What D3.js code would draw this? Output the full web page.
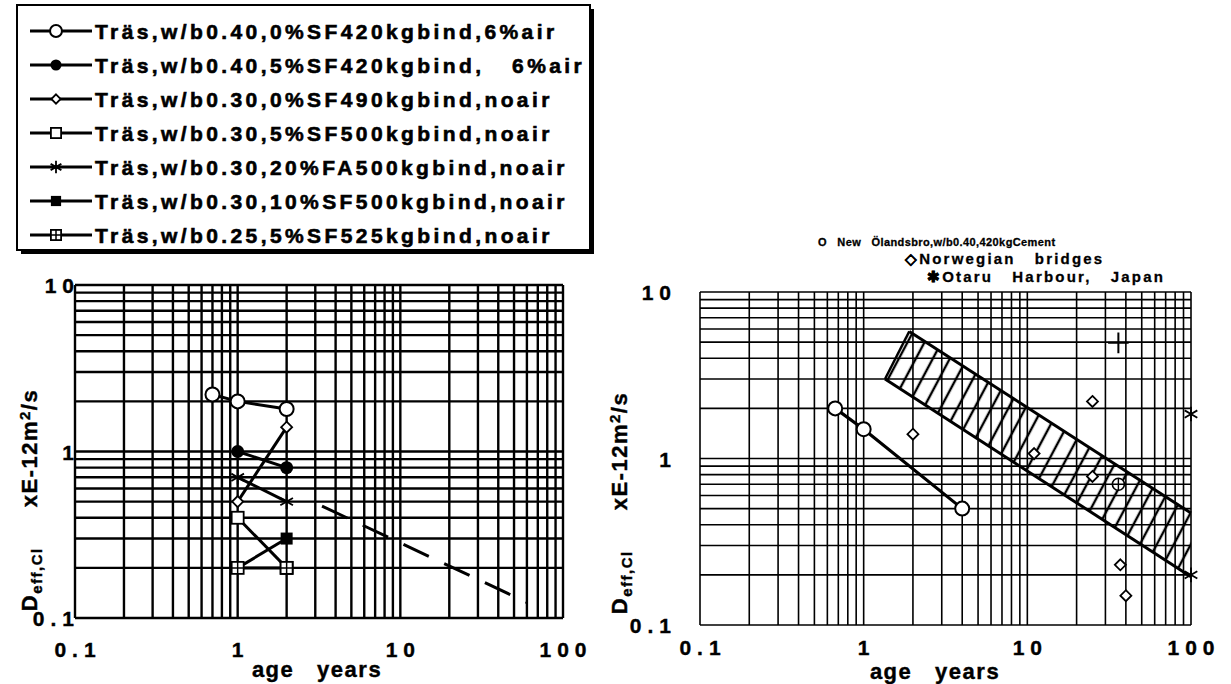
<!DOCTYPE html>
<html>
<head>
<meta charset="utf-8">
<script src="https://cdn.jsdelivr.net/npm/d3@7"></script>
<style>
  body { margin: 0; background: #fff; }
  svg text { font-family: "Liberation Sans", Arial, Helvetica, sans-serif; font-weight: bold; fill: #000; }
</style>
</head>
<body>
<svg id="fig" width="1231" height="684"></svg>
<script>
// ---------- data: Träs laboratory series (age in years, Deff,Cl in 1E-12 m2/s) ----------
const trasNames = [
  "Träs,w/b0.40,0%SF420kgbind,6%air",
  "Träs,w/b0.40,5%SF420kgbind,   6%air",
  "Träs,w/b0.30,0%SF490kgbind,noair",
  "Träs,w/b0.30,5%SF500kgbind,noair",
  "Träs,w/b0.30,20%FA500kgbind,noair",
  "Träs,w/b0.30,10%SF500kgbind,noair",
  "Träs,w/b0.25,5%SF525kgbind,noair"
];
const trasMarkers = ["circleOpen", "circleFilled", "diamondOpen", "squareOpen", "asterisk", "squareFilled", "squareQuartered"];

const tras040_0SF   = [[0.7, 2.2], [1, 2.0], [2, 1.8]];
const tras040_5SF   = [[1, 1.0], [2, 0.8]];
const tras030_0SF   = [[1, 0.5], [2, 1.4]];
const tras030_5SF   = [[1, 0.4], [2, 0.2]];
const tras030_20FA  = [[1, 0.7], [2, 0.5]];
const tras030_10SF  = [[1, 0.2], [2, 0.3]];
const tras025_5SF   = [[1, 0.2], [2, 0.2]];
const trasSeries = [tras040_0SF, tras040_5SF, tras030_0SF, tras030_5SF, tras030_20FA, tras030_10SF, tras025_5SF];

// dashed trend line in the laboratory panel
const trendDashed = [[3.3, 0.47], [60, 0.124]];

// ---------- data: field structures ----------
const olandsbro = [[0.67, 2.0], [1, 1.5], [4, 0.5]];
const norwegianBridges = [[2, 1.4], [25, 2.2], [11, 1.07], [25, 0.78], [37, 0.23], [40, 0.15]];
const otaruHarbour = [[100, 1.85], [100, 0.2]];
const crossedCircle = [[36, 0.70]];
const plusMark = [[36, 4.95]];

// hatched band of field data (upper and lower edge)
const bandUpper = [[1.9, 5.8], [100, 0.47]];
const bandLower = [[1.35, 3.0], [100, 0.195]];

// ---------- axes ----------
const xTicks = [0.1, 1, 10, 100];
const xTickLabels = ["0.1", "1", "10", "100"];
const yTicks = [0.1, 1, 10];
const yTickLabels = ["0.1", "1", "10"];

const svg = d3.select("#fig");

function marker(g, type, x, y, s) {
  const k = s || 1;
  if (type === "circleOpen") {
    g.append("circle").attr("cx", x).attr("cy", y).attr("r", 7 * k)
      .attr("fill", "#fff").attr("stroke", "#000").attr("stroke-width", 2);
  } else if (type === "circleFilled") {
    g.append("circle").attr("cx", x).attr("cy", y).attr("r", 6.5 * k).attr("fill", "#000");
  } else if (type === "diamondOpen") {
    const r = 5.5 * k;
    g.append("path").attr("d", `M${x},${y - r}L${x + r},${y}L${x},${y + r}L${x - r},${y}Z`)
      .attr("fill", "#fff").attr("stroke", "#000").attr("stroke-width", 1.8);
  } else if (type === "squareOpen") {
    const r = 6 * k;
    g.append("rect").attr("x", x - r).attr("y", y - r).attr("width", 2 * r).attr("height", 2 * r)
      .attr("fill", "#fff").attr("stroke", "#000").attr("stroke-width", 1.8);
  } else if (type === "squareFilled") {
    const r = 6 * k;
    g.append("rect").attr("x", x - r).attr("y", y - r).attr("width", 2 * r).attr("height", 2 * r).attr("fill", "#000");
  } else if (type === "squareQuartered") {
    const r = 6 * k;
    g.append("rect").attr("x", x - r).attr("y", y - r).attr("width", 2 * r).attr("height", 2 * r)
      .attr("fill", "#fff").attr("stroke", "#000").attr("stroke-width", 1.8);
    g.append("path").attr("d", `M${x - r},${y}H${x + r}M${x},${y - r}V${y + r}`)
      .attr("stroke", "#000").attr("stroke-width", 1.5);
  } else if (type === "asterisk") {
    g.append("path").attr("transform", `translate(${x},${y})`)
      .attr("d", d3.symbol(d3.symbolAsterisk, 150 * k * k)())
      .attr("fill", "none").attr("stroke", "#000").attr("stroke-width", 1.8);
  } else if (type === "plus") {
    g.append("path").attr("transform", `translate(${x},${y})`)
      .attr("d", d3.symbol(d3.symbolPlus, 140 * k * k)())
      .attr("fill", "none").attr("stroke", "#000").attr("stroke-width", 2);
  } else if (type === "crossedCircle") {
    const r = 6 * k;
    g.append("circle").attr("cx", x).attr("cy", y).attr("r", r)
      .attr("fill", "#fff").attr("stroke", "#000").attr("stroke-width", 1.6);
    g.append("path").attr("d", `M${x - r},${y}H${x + r}M${x},${y - r}V${y + r}`)
      .attr("stroke", "#000").attr("stroke-width", 1.4);
  }
}

function yTitle(g, cx, cy) {
  const t = g.append("text")
    .attr("transform", `translate(${cx},${cy}) rotate(-90)`)
    .attr("text-anchor", "middle")
    .style("font-size", "22px").style("letter-spacing", "1.5px")
    .attr("stroke", "#000").attr("stroke-width", 0.4);
  t.append("tspan").text("D");
  t.append("tspan").attr("baseline-shift", "-35%").style("font-size", "15px").text("eff,Cl");
  t.append("tspan").attr("dx", 40).text("xE-12m");
  t.append("tspan").attr("baseline-shift", "45%").style("font-size", "15px").text("2");
  t.append("tspan").text("/s");
}

function panel(opt) {
  const x = d3.scaleLog().domain([0.1, 100]).range([opt.x0, opt.x1]);
  const y = d3.scaleLog().domain([0.1, 10]).range([opt.y0, opt.y1]);
  const g = svg.append("g");

  // log grid
  const grid = g.append("g").attr("stroke", "#000").attr("stroke-width", opt.gridWidth);
  grid.selectAll("line.v").data(x.ticks()).join("line").attr("class", "v")
    .attr("x1", d => x(d)).attr("x2", d => x(d)).attr("y1", opt.y0).attr("y2", opt.y1);
  grid.selectAll("line.h").data(y.ticks()).join("line").attr("class", "h")
    .attr("y1", d => y(d)).attr("y2", d => y(d)).attr("x1", opt.x0).attr("x2", opt.x1);

  // tick labels
  g.selectAll("text.xt").data(xTicks).join("text").attr("class", "xt")
    .attr("x", d => x(d) + 3).attr("y", opt.xLabelY)
    .attr("text-anchor", "middle")
    .style("font-size", "21px").style("letter-spacing", "6px")
    .attr("stroke", "#000").attr("stroke-width", 0.4)
    .text((d, i) => xTickLabels[i]);
  g.selectAll("text.yt").data(yTicks).join("text").attr("class", "yt")
    .attr("x", opt.yLabelX).attr("y", d => y(d) + 8)
    .attr("text-anchor", "end")
    .style("font-size", "21px").style("letter-spacing", "6px")
    .attr("stroke", "#000").attr("stroke-width", 0.4)
    .text((d, i) => yTickLabels[i]);

  g.append("text").attr("x", opt.xTitleX).attr("y", opt.xTitleY).attr("text-anchor", "middle")
    .style("font-size", "22px").style("letter-spacing", "1.5px")
    .attr("stroke", "#000").attr("stroke-width", 0.4)
    .attr("xml:space", "preserve").text("age   years");
  yTitle(g, opt.yTitleX, opt.yTitleY);
  return { g, x, y };
}

// ---------- legend box ----------
const lg = svg.append("g");
lg.append("rect").attr("x", 21).attr("y", 9).attr("width", 573).attr("height", 245).attr("fill", "#000");
lg.append("rect").attr("x", 17).attr("y", 5).attr("width", 573).attr("height", 245)
  .attr("fill", "#fff").attr("stroke", "#000").attr("stroke-width", 2);
trasNames.forEach((name, i) => {
  const yy = 31 + i * 34;
  lg.append("line").attr("x1", 30).attr("x2", 92).attr("y1", yy).attr("y2", yy)
    .attr("stroke", "#000").attr("stroke-width", 3);
  marker(lg, trasMarkers[i], 56, yy, 0.85);
  lg.append("text").attr("x", 95).attr("y", yy + 8)
    .attr("xml:space", "preserve")
    .style("font-size", "21px").style("letter-spacing", "3.4px")
    .attr("stroke", "#000").attr("stroke-width", 0.6)
    .text(name);
});

// ---------- laboratory panel ----------
const L = panel({ x0: 75, x1: 563, y0: 618, y1: 285, gridWidth: 2.4,
  xLabelY: 657, yLabelX: 80, xTitleX: 317, xTitleY: 677, yTitleX: 37, yTitleY: 500 });
const line = (p) => d3.line().x(d => p.x(d[0])).y(d => p.y(d[1]));

trasSeries.forEach((s, i) => {
  L.g.append("path").datum(s).attr("d", line(L)).attr("fill", "none")
    .attr("stroke", "#000").attr("stroke-width", 3);
});
// markers drawn on top, last series over the others
trasSeries.forEach((s, i) => {
  s.forEach(d => marker(L.g, trasMarkers[i], L.x(d[0]), L.y(d[1]), 1));
});
L.g.append("path").datum(trendDashed).attr("d", line(L)).attr("fill", "none")
  .attr("stroke", "#000").attr("stroke-width", 3).attr("stroke-dasharray", "28,17");

// ---------- field panel ----------
const R = panel({ x0: 700, x1: 1191, y0: 625, y1: 292, gridWidth: 1.6,
  xLabelY: 655, yLabelX: 677, xTitleX: 935, xTitleY: 679, yTitleX: 627, yTitleY: 503 });

// hatched band
const defs = svg.append("defs");
const pat = defs.append("pattern").attr("id", "hatch").attr("patternUnits", "userSpaceOnUse")
  .attr("width", 15).attr("height", 40).attr("patternTransform", "rotate(28)");
pat.append("line").attr("x1", 2).attr("x2", 2).attr("y1", 0).attr("y2", 40)
  .attr("stroke", "#000").attr("stroke-width", 2.4);
const bandPoly = bandUpper.concat(bandLower.slice().reverse());
R.g.append("path").datum(bandPoly)
  .attr("d", d3.line().x(d => R.x(d[0])).y(d => R.y(d[1])).curve(d3.curveLinearClosed))
  .attr("fill", "url(#hatch)").attr("stroke", "none");
[bandUpper, bandLower].forEach(edge => {
  R.g.append("path").datum(edge).attr("d", line(R)).attr("fill", "none")
    .attr("stroke", "#000").attr("stroke-width", 3);
});
R.g.append("path").datum([bandLower[0], bandUpper[0]]).attr("d", line(R)).attr("fill", "none")
  .attr("stroke", "#000").attr("stroke-width", 2.4);

R.g.append("path").datum(olandsbro).attr("d", line(R)).attr("fill", "none")
  .attr("stroke", "#000").attr("stroke-width", 3.2);
olandsbro.forEach(d => marker(R.g, "circleOpen", R.x(d[0]), R.y(d[1]), 1));
norwegianBridges.forEach(d => marker(R.g, "diamondOpen", R.x(d[0]), R.y(d[1]), 1));
otaruHarbour.forEach(d => marker(R.g, "asterisk", R.x(d[0]), R.y(d[1]), 1));
crossedCircle.forEach(d => marker(R.g, "crossedCircle", R.x(d[0]), R.y(d[1]), 1));
plusMark.forEach(d => marker(R.g, "plus", R.x(d[0]), R.y(d[1]), 1));

// field legend
const fl = svg.append("g");
fl.append("text").attr("x", 818).attr("y", 246).attr("xml:space", "preserve")
  .style("font-size", "11px").style("letter-spacing", "0.4px")
  .attr("stroke", "#000").attr("stroke-width", 0.3)
  .text("O   New   Ölandsbro,w/b0.40,420kgCement");
fl.append("text").attr("x", 905).attr("y", 264).attr("xml:space", "preserve")
  .style("font-size", "15px").style("letter-spacing", "2.2px")
  .attr("stroke", "#000").attr("stroke-width", 0.3)
  .text("◇Norwegian   bridges");
fl.append("text").attr("x", 927).attr("y", 282).attr("xml:space", "preserve")
  .style("font-size", "15px").style("letter-spacing", "2.2px")
  .attr("stroke", "#000").attr("stroke-width", 0.3)
  .text("✱Otaru   Harbour,   Japan");
</script>
</body>
</html>
